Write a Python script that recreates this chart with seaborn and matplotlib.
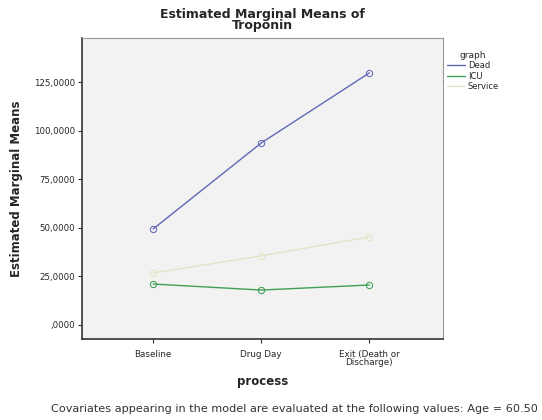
import pandas as pd
import numpy as np
import seaborn as sns
import matplotlib.pyplot as plt
from matplotlib.lines import Line2D

process = ["Baseline", "Drug Day", "Exit (Death or\nDischarge)"]
groups = ["Dead", "ICU", "Service"]
dead = [49.5, 93.8, 129.9]
icu = [21.1, 18.0, 20.6]
service = [26.8, 35.6, 45.4]
yticks = [0, 25, 50, 75, 100, 125]
ytick_labels = [",0000", "25,0000", "50,0000", "75,0000", "100,0000", "125,0000"]
colors = {"Dead": "#6068b8", "ICU": "#3fa055", "Service": "#e6e3c4"}

df = pd.DataFrame({
    "process": process * 3,
    "graph": np.repeat(groups, 3),
    "mean": dead + icu + service,
})

sns.set_style("white")
plt.rcParams['font.family'] = ['DejaVu Sans']

fig = plt.figure(figsize=(5.42, 4.2), dpi=100)
ax = fig.add_axes([0.151, 0.193, 0.666, 0.717])
ax.set_facecolor("#f2f2f2")

sns.lineplot(data=df, x="process", y="mean", hue="graph", palette=colors,
             marker="o", markerfacecolor="none", markersize=4.5, linewidth=1,
             sort=False, legend=False, ax=ax)
for line in ax.lines:
    line.set_markeredgecolor(line.get_color())

ax.set_xlim(-0.66, 2.68)
ax.set_ylim(-7.2, 148)
ax.set_yticks(yticks)
ax.set_yticklabels(ytick_labels, fontsize=6.2)
ax.set_xticks(range(3))
ax.set_xticklabels(process, fontsize=6.3, linespacing=0.85)
ax.tick_params(axis="both", direction="out", length=3, width=0.8, color="#333333", pad=2, bottom=True, left=True)
ax.tick_params(axis="x", pad=5)

for side in ["top", "right"]:
    ax.spines[side].set_color("#999999")
    ax.spines[side].set_linewidth(0.8)
for side in ["left", "bottom"]:
    ax.spines[side].set_color("#333333")
    ax.spines[side].set_linewidth(1.2)

ax.set_title("Estimated Marginal Means of\nTroponin", fontsize=9, fontweight="bold",
             linespacing=0.8, pad=6)
ax.set_xlabel("process", fontsize=8.5, fontweight="bold", labelpad=6)
ax.set_ylabel("Estimated Marginal Means", fontsize=8.5, fontweight="bold", labelpad=8)

handles = [Line2D([0], [0], color=colors[g], lw=1) for g in groups]
leg = ax.legend(handles, groups, title="graph", loc="upper left",
                bbox_to_anchor=(0.995, 0.975), frameon=False, fontsize=6,
                title_fontsize=6.5, handlelength=2.2, handletextpad=0.3,
                labelspacing=0.15, borderaxespad=0.3)

fig.text(0.095, 0.02, "Covariates appearing in the model are evaluated at the following values: Age = 60.50",
         fontsize=8.1, color="#333333", ha="left")

fig.savefig("out.png", dpi=100)
